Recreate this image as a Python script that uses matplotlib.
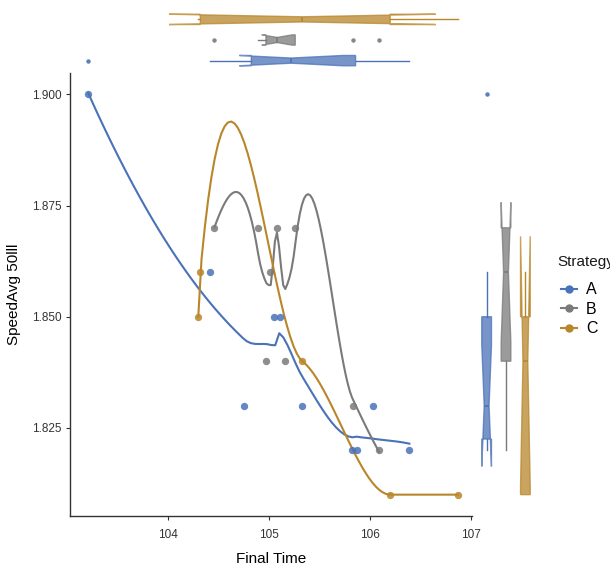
import numpy as np
import matplotlib
matplotlib.use("Agg")
import matplotlib.pyplot as plt
from matplotlib.lines import Line2D

plt.rcParams['font.family'] = ['Liberation Sans', 'DejaVu Sans']

# data
strategies = ["A", "B", "C"]
colors = ["#4A72B8", "#7A7A7A", "#B8862B"]

time_a = [103.21, 104.42, 105.05, 105.11, 104.75, 105.33, 106.03, 105.82, 105.87, 106.39]
speed_a = [1.900, 1.860, 1.850, 1.850, 1.830, 1.830, 1.830, 1.820, 1.820, 1.820]
time_b = [104.46, 104.89, 105.08, 105.26, 105.01, 104.97, 105.16, 105.83, 106.09]
speed_b = [1.870, 1.870, 1.870, 1.870, 1.860, 1.840, 1.840, 1.830, 1.820]
time_c = [104.32, 104.30, 105.33, 106.20, 106.87]
speed_c = [1.860, 1.850, 1.840, 1.810, 1.810]

times = [time_a, time_b, time_c]
speeds = [speed_a, speed_b, speed_c]

x_ticks = [104, 105, 106, 107]
y_ticks = [1.825, 1.850, 1.875, 1.900]


# loess (degree 2, span 0.75) with kd-tree vertices + cubic Hermite
# interpolation, the way R's loess(surface="interpolate") does it in 1D
def local_fit(x, y, z, q):
    d = np.abs(x - z)
    rho = np.sort(d)[q - 1]
    w = np.where(d < rho, (1 - (d / rho) ** 3) ** 3, 0.0)
    sw = np.sqrt(w)
    X = np.column_stack([np.ones_like(x), x - z, (x - z) ** 2]) * sw[:, None]
    yy = y * sw
    cn = np.linalg.norm(X, axis=0)
    cn[cn == 0] = 1.0
    Xs = X / cn
    U, s, Vt = np.linalg.svd(Xs, full_matrices=False)
    tol = s[0] * 100 * np.finfo(float).eps
    inv = np.where(s > tol, 1.0 / np.where(s > 0, s, 1), 0.0)
    beta = Vt.T @ (inv * (U.T @ yy)) / cn
    return beta[0], beta[1]


def loess_curve(x, y, span=0.75, cell=0.2, n_out=80):
    x = np.asarray(x, float)
    y = np.asarray(y, float)
    n = len(x)
    q = int(np.floor(n * span + 1e-5))
    fc = int(np.floor(n * span * cell))
    xs = np.sort(x)
    margin = 0.005 * (xs[-1] - xs[0])
    verts = [xs[0] - margin, xs[-1] + margin]
    stack = [(0, n - 1, verts[0], verts[1])]
    while stack:
        l, u, vlo, vhi = stack.pop()
        if u - l + 1 <= fc or vhi - vlo <= 0:
            continue
        m = (l + u) // 2
        off = 0
        while l <= m + off < u:
            if xs[m + off] == xs[m + off + 1]:
                off = -off
                if off >= 0:
                    off += 1
            else:
                m = m + off
                break
        if xs[m] == vlo or xs[m] == vhi:
            continue
        verts.append(xs[m])
        stack.append((l, m, vlo, xs[m]))
        stack.append((m + 1, u, xs[m], vhi))
    verts = np.unique(verts)
    vals = np.array([local_fit(x, y, v, q) for v in verts])
    grid = np.linspace(x.min(), x.max(), n_out)
    out = []
    for z in grid:
        k = min(max(np.searchsorted(verts, z) - 1, 0), len(verts) - 2)
        h = verts[k + 1] - verts[k]
        t = (z - verts[k]) / h
        g0, d0 = vals[k]
        g1, d1 = vals[k + 1]
        out.append((1 - t) ** 2 * (1 + 2 * t) * g0 + t ** 2 * (3 - 2 * t) * g1
                   + (t * (1 - t) ** 2 * d0 - t ** 2 * (1 - t) * d1) * h)
    return grid, np.array(out)


W, H = 610, 568
fig = plt.figure(figsize=(W / 100, H / 100), dpi=100)
ax = fig.add_axes([70 / W, 1 - 516 / H, 402 / W, 443 / H])
ax_top = fig.add_axes([70 / W, 1 - 73 / H, 402 / W, 66 / H], sharex=ax)
ax_right = fig.add_axes([475 / W, 1 - 516 / H, 62 / W, 443 / H], sharey=ax)

for xv, yv, col in zip(times, speeds, colors):
    gx, gy = loess_curve(xv, yv)
    ax.plot(gx, gy, color=col, lw=1.5, zorder=2)
    ax.scatter(xv, yv, s=28, color=col, alpha=0.85, linewidths=0, zorder=3)

ax.set_xticks(x_ticks)
ax.set_yticks(y_ticks)
ax.set_yticklabels(["%.3f" % v for v in y_ticks])
ax.tick_params(labelsize=8.5, colors="#333333", length=3, width=0.8, pad=6)
ax.tick_params(axis="y", pad=3)
for side in ["top", "right"]:
    ax.spines[side].set_visible(False)
for side in ["left", "bottom"]:
    ax.spines[side].set_color("#333333")
    ax.spines[side].set_linewidth(1.0)
ax.set_xlabel("Final Time", fontsize=11, labelpad=8)
ax.set_ylabel("SpeedAvg 50lll", fontsize=11, labelpad=8)


def marginal_box(axm, data, vertical):
    bp = axm.boxplot(data, positions=[1, 2, 3], widths=0.5, notch=True,
                     vert=vertical, patch_artist=True, showcaps=False)
    for i, col in enumerate(colors):
        bp["boxes"][i].set_facecolor(col)
        bp["boxes"][i].set_alpha(0.75)
        bp["boxes"][i].set_edgecolor(col)
        bp["boxes"][i].set_linewidth(1.0)
        bp["medians"][i].set_color(col)
        bp["medians"][i].set_linewidth(1.2)
        for wline in bp["whiskers"][2 * i:2 * i + 2]:
            wline.set_color(col)
            wline.set_linewidth(1.0)
        bp["fliers"][i].set(marker="o", markersize=3.2, markerfacecolor=col,
                            markeredgecolor="none", alpha=0.9)
    axm.axis("off")


marginal_box(ax_top, times, vertical=False)
ax_top.set_ylim(0.4, 3.6)
marginal_box(ax_right, speeds, vertical=True)
ax_right.set_xlim(0.4, 3.6)
ax.set_xlim(103.03, 107.01)
ax.set_ylim(1.8052, 1.9048)

handles = [Line2D([0], [0], color=c, lw=1.5, marker="o", markersize=5)
           for c in colors]
fig.text(557 / W, 1 - 262 / H, "Strategy", fontsize=11, va="center",
         ha="left", color="#1a1a1a")
fig.legend(handles, strategies, loc="upper left",
           bbox_to_anchor=(555 / W, 1 - 276 / H), frameon=False,
           borderaxespad=0, fontsize=11.5, handlelength=0.95,
           handletextpad=0.6, labelspacing=0.28)

fig.savefig("out.png", dpi=100)
